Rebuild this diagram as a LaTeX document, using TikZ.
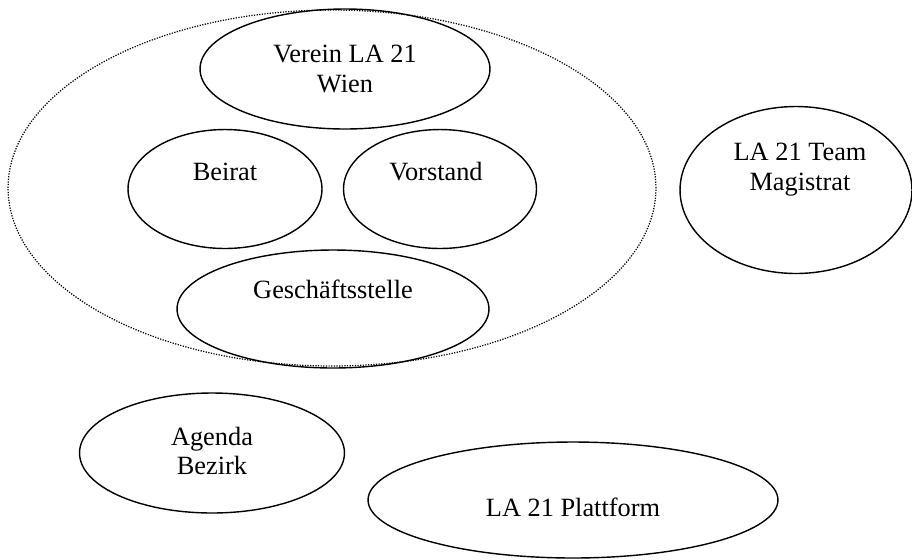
\documentclass[tikz,border=0pt]{standalone}
\usepackage{fontspec}
\setmainfont{Liberation Serif}
\usetikzlibrary{shapes.geometric}

\tikzset{
	kreis/.style={ellipse, draw, line width=0.8pt, inner sep=0pt},
	punktkreis/.style={ellipse, draw, line width=0.7pt, dash pattern=on 0.7pt off 0.8pt, inner sep=0pt},
	beschr/.style={align=center, font=\fontsize{15}{17}\selectfont},
}

\begin{document}
\begin{tikzpicture}[x=0.02cm, y=-0.02cm]
	\useasboundingbox (0,0) rectangle (912,559);
	
	% Verein (gepunktete Klammer)
	\node[punktkreis, minimum width=12.96cm, minimum height=7.12cm] (verein) at (332,188) {};
	
	% Innere Gremien
	\node[kreis, minimum width=5.8cm, minimum height=2.4cm,
		label={[beschr, name=vereintext, yshift=0.0cm]center:{Verein LA 21\\Wien}}] (vereinwien) at (345,69) {};
	\node[kreis, minimum width=3.88cm, minimum height=2.38cm,
		label={[beschr, name=beirattext, yshift=0.34cm]center:Beirat}] (beirat) at (225,189) {};
	\node[kreis, minimum width=3.86cm, minimum height=2.38cm,
		label={[beschr, name=vorstandtext, xshift=-0.08cm, yshift=0.34cm]center:Vorstand}] (vorstand) at (440,189) {};
	\node[kreis, minimum width=6.24cm, minimum height=2.36cm,
		label={[beschr, name=gstext, yshift=0.4cm]center:Geschäftsstelle}] (gs) at (333,309) {};
	
	% Magistrat rechts
	\node[kreis, minimum width=4.64cm, minimum height=3.34cm,
		label={[beschr, name=magtext, xshift=0.08cm, yshift=0.4cm]center:{LA 21 Team\\Magistrat}}] (magistrat) at (796,190) {};
	
	% Unten: Bezirk und Plattform
	\node[kreis, minimum width=5.3cm, minimum height=2.4cm,
		label={[beschr, name=bezirktext, yshift=0.04cm]center:{Agenda\\Bezirk}}] (bezirk) at (212,453) {};
	\node[kreis, minimum width=8.2cm, minimum height=2.32cm,
		label={[beschr, name=plattformtext, yshift=-0.14cm]center:LA 21 Plattform}] (plattform) at (573,500) {};
	
\end{tikzpicture}
\end{document}
